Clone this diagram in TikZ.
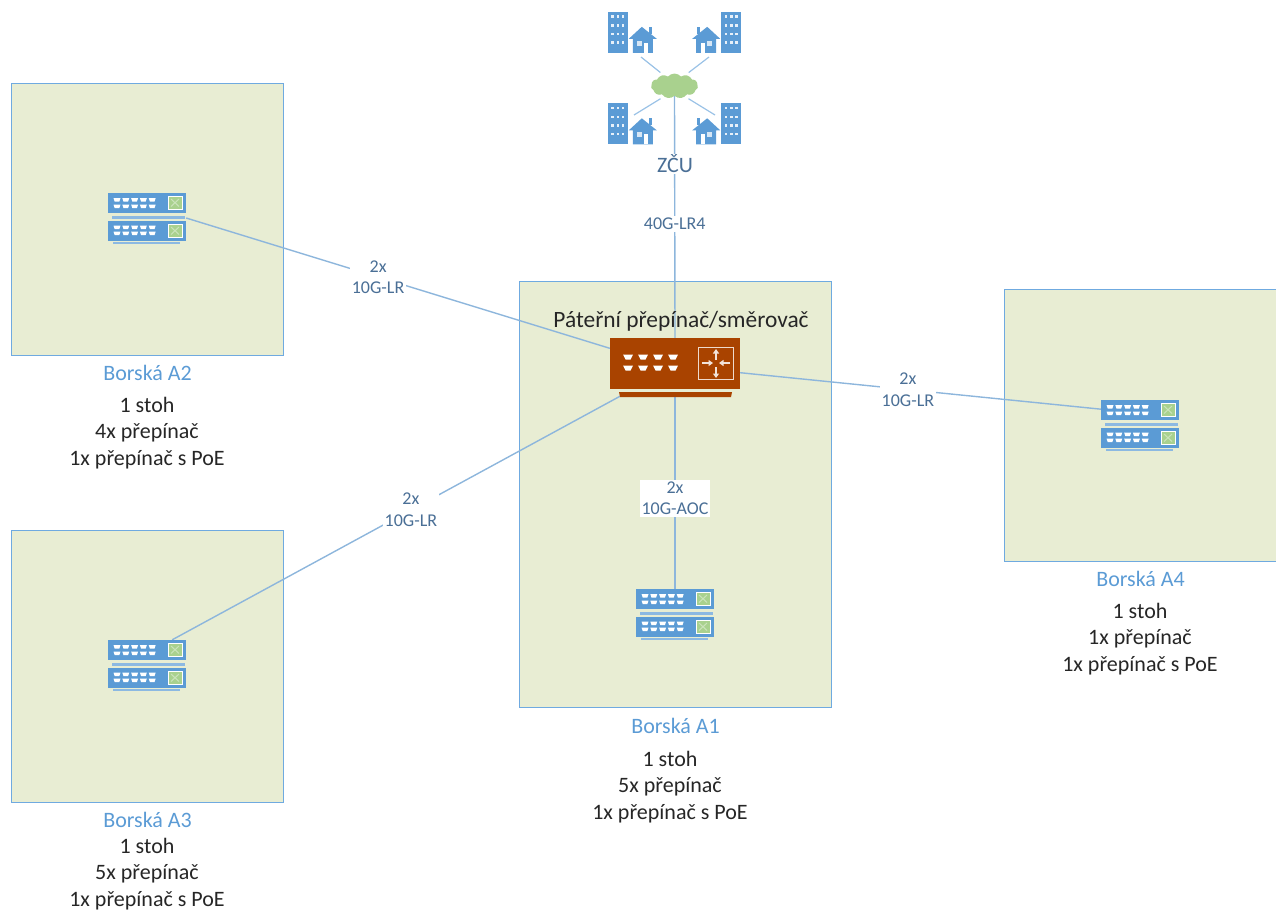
\documentclass[tikz,border=0pt]{standalone}
\usepackage{fontspec}
\setmainfont{Carlito}
\usetikzlibrary{arrows.meta,positioning,shapes.symbols}
\definecolor{zone}{HTML}{E8EDD3}
\definecolor{zoneline}{HTML}{6FAAE0}
\definecolor{iconblue}{HTML}{5B9BD5}
\definecolor{iconlight}{HTML}{B5D3EE}
\definecolor{linkblue}{HTML}{8DB6DC}
\definecolor{corered}{HTML}{A94300}
\definecolor{cloudgreen}{HTML}{A9D18E}
\definecolor{labelblue}{HTML}{4A6F96}
\tikzstyle{zonebox}=[rectangle,draw=zoneline,fill=zone,line width=1.1pt,inner sep=0,anchor=north west]
\tikzstyle{zonename}=[text=iconblue,font=\fontsize{22}{26}\selectfont,inner sep=0]
\tikzstyle{zonelist}=[text=black!85,font=\fontsize{22}{26.5}\selectfont,align=center,inner sep=0]
\tikzstyle{devicespot}=[rectangle,inner sep=0,minimum width=78pt,minimum height=50pt]
\tikzstyle{corespot}=[rectangle,inner sep=0,minimum width=130pt,minimum height=58pt]
\tikzstyle{link}=[draw=linkblue,line width=1.4pt]
\tikzstyle{spoke}=[draw=iconlight!70!iconblue,line width=1.2pt]
\tikzstyle{linklabel}=[fill=white,text=labelblue,font=\fontsize{18}{21.5}\selectfont,align=center,inner sep=2pt]
\tikzstyle{corearrow}=[-{Triangle[length=4.5pt,width=6pt]},white!85!corered,line width=1.2pt]
\tikzset{
  switch pair/.pic={
    \foreach \y/\a/\b in {-25/-18/-11.5,3/9.5/15.5} {
      \fill [iconblue] (-39,\y) rectangle (39,\y+19.5);
      \fill [cloudgreen,draw=white,line width=1pt] (21,\y+3) rectangle (35,\y+16.5);
      \draw [white!40!cloudgreen,line width=1pt] (24,\y+6) -- (32,\y+13.5) (32,\y+6) -- (24,\y+13.5);
      \foreach \x in {0,...,4} {
        \fill [white] (-33.5+\x*8.8,\a-2) -- ++(7,0) -- ++(-1.2,3.6) -- ++(-4.6,0) -- cycle;
        \fill [white] (-33.5+\x*8.8,\b-2) -- ++(7,0) -- ++(-1.2,3.6) -- ++(-4.6,0) -- cycle;
      }
    }
    \fill [iconblue!70!white] (-35,-2) rectangle (38,0.5);
    \fill [iconblue!70!white] (-34,23.5) rectangle (33,26);
  },
  core box/.pic={
    \fill [corered] (-65,-29) rectangle (65,22);
    \fill [corered] (-56,25) -- (57,25) -- (56,30) -- (-55,30) -- cycle;
    \foreach \x in {-47,-32,-17,-2} {
      \foreach \y in {-10,1} {
        \fill [white] (\x-5,\y-2.5) -- ++(10,0) -- ++(-2.5,5) -- ++(-5,0) -- cycle;
      }
    }
    \draw [white!80!corered,line width=1pt] (23,-20) rectangle (58,12);
    \draw [corearrow] (41,-7) -- (41,-18);
    \draw [corearrow] (41,0) -- (41,11);
    \draw [corearrow] (27,-4) -- (38,-4);
    \draw [corearrow] (55,-4) -- (44,-4);
  },
  town/.pic={
    \fill [iconblue] (0,0) rectangle (20,41);
    \foreach \x in {3.5,8.7,14} {
      \foreach \y in {3.5,12.5,21,29.5} {
        \fill [white!85!iconblue] (\x,\y) rectangle ++(2.6,2.6);
      }
    }
    \fill [iconblue] (21,27) -- (34,15) -- (49,27) -- (45,27) -- (45,41) -- (25,41) -- (25,27) -- cycle;
    \fill [iconblue] (41,15) rectangle (44,22);
    \fill [white] (36,31) rectangle (40,41);
    \fill [white!75!iconblue] (29,29) rectangle (34,34);
  }
}
\begin{document}
\begin{tikzpicture}[x=1pt,y=-1pt]
\useasboundingbox (0,0) rectangle (1276,911);

\node (boxA2) [zonebox,minimum width=272pt,minimum height=272pt] at (11,83) {};
\node (boxA3) [zonebox,minimum width=272pt,minimum height=272pt] at (11,530) {};
\node (boxA1) [zonebox,minimum width=312pt,minimum height=426pt] at (519,281) {};
\node (boxA4) [zonebox,minimum width=272pt,minimum height=272pt] at (1004,289) {};

\node (nameA2) [zonename,below=9pt of boxA2] {Borská A2};
\node (listA2) [zonelist] at (147,433) {1 stoh\\4x přepínač\\1x přepínač s PoE};
\node (nameA3) [zonename,below=9pt of boxA3] {Borská A3};
\node (listA3) [zonelist] at (147,874) {1 stoh\\5x přepínač\\1x přepínač s PoE};
\node (nameA1) [zonename,below=10pt of boxA1.south] {Borská A1};
\node (listA1) [zonelist] at (670,787) {1 stoh\\5x přepínač\\1x přepínač s PoE};
\node (nameA4) [zonename,below=9pt of boxA4] {Borská A4};
\node (listA4) [zonelist] at (1140,639) {1 stoh\\1x přepínač\\1x přepínač s PoE};

\node (swA2) [devicespot] at (147,218) {};
\node (swA3) [devicespot] at (147,665) {};
\node (swA1) [devicespot] at (675,614) {};
\node (swA4) [devicespot] at (1140,425) {};
\node (core) [corespot] at (675,367) {};
\node (cloudZCU) [cloud,cloud puffs=11,cloud puff arc=100,aspect=2,fill=cloudgreen,inner sep=0,minimum width=47pt,minimum height=25pt] at (674.5,86) {};
\node (townNW) [inner sep=0,minimum width=49pt,minimum height=41pt] at (632.5,32.5) {};
\node (townNE) [inner sep=0,minimum width=49pt,minimum height=41pt] at (716.5,32.5) {};
\node (townSW) [inner sep=0,minimum width=49pt,minimum height=41pt] at (632.5,124) {};
\node (townSE) [inner sep=0,minimum width=49pt,minimum height=41pt] at (716.5,124) {};
\coordinate (spokeNW) at (641,57);
\coordinate (spokeNE) at (709,57);
\coordinate (spokeSW) at (634,115);
\coordinate (spokeSE) at (715,115);

\draw [link] (swA2.east) -- node (labA2) [linklabel,pos=0.453] {2x\\10G-LR} (core.164);
\draw [link] (swA3.45) -- node (labA3) [linklabel,pos=0.533] {2x\\10G-LR} (core.208.6);
\draw [link] (core.-5.3) -- node (labA4) [linklabel,pos=0.465] {2x\\10G-LR} (swA4.158);
\draw [link] (core.south) -- node (labA1) [linklabel,pos=0.53] {2x\\10G-AOC} (swA1.north);
\draw [link] (cloudZCU.south) -- node (labZCU) [linklabel,pos=0.53] {40G-LR4} (core.north);
\node (nameZCU) [fill=white,text=labelblue,font=\fontsize{22}{26}\selectfont,inner sep=0.5pt] at (675,164) {ZČU};

\draw [spoke,shorten >=4pt] (spokeNW) -- (cloudZCU.135);
\draw [spoke,shorten >=4pt] (spokeNE) -- (cloudZCU.45);
\draw [spoke,shorten >=4pt] (spokeSW) -- (cloudZCU.225);
\draw [spoke,shorten >=4pt] (spokeSE) -- (cloudZCU.-45);

\pic at (swA2) {switch pair};
\pic at (swA3) {switch pair};
\pic at (swA1) {switch pair};
\pic at (swA4) {switch pair};
\pic at (core) {core box};
\pic at (townNW.north west) {town};
\pic [xscale=-1] at (townNE.north east) {town};
\pic at (townSW.north west) {town};
\pic [xscale=-1] at (townSE.north east) {town};

\node (titleCore) [font=\fontsize{23.4}{26}\selectfont,text=black!85,inner sep=0] at (681,321) {Páteřní přepínač/směrovač};

\end{tikzpicture}
\end{document}
